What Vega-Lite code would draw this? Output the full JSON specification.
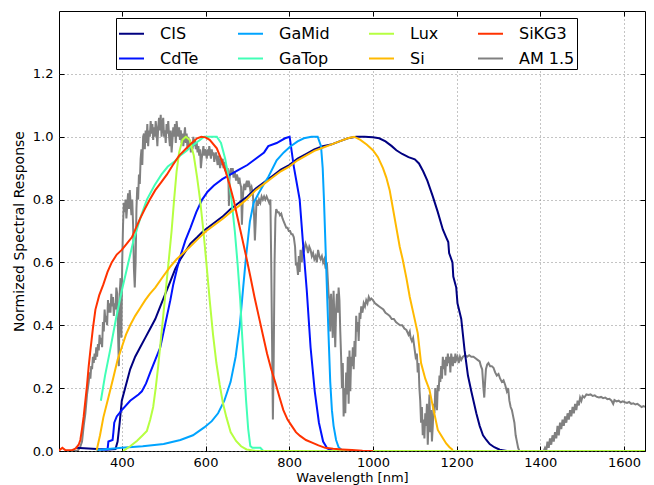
{
  "$schema": "https://vega.github.io/schema/vega-lite/v6.json",
  "width": 586,
  "height": 440,
  "autosize": "none",
  "padding": {"left": 59, "top": 11, "right": 9, "bottom": 34},
  "background": "white",
  "config": {
    "view": {"stroke": "black", "strokeWidth": 1},
    "font": "DejaVu Sans",
    "axis": {"labelFont": "DejaVu Sans", "titleFont": "DejaVu Sans", "labelColor": "black", "titleColor": "black", "tickColor": "black", "titleFontWeight": "normal"}
  },
  "data": {"values": [
    {"series":"AM 1.5","nm":280,"value":0},{"series":"AM 1.5","nm":290,"value":0},{"series":"AM 1.5","nm":295,"value":0.002},{"series":"AM 1.5","nm":300,"value":0.01},{"series":"AM 1.5","nm":305,"value":0.03},{"series":"AM 1.5","nm":309,"value":0.08},{"series":"AM 1.5","nm":313,"value":0.12},{"series":"AM 1.5","nm":317,"value":0.18},{"series":"AM 1.5","nm":321,"value":0.22},{"series":"AM 1.5","nm":323,"value":0.25},{"series":"AM 1.5","nm":325,"value":0.23},{"series":"AM 1.5","nm":327,"value":0.27},{"series":"AM 1.5","nm":329,"value":0.26},{"series":"AM 1.5","nm":331,"value":0.3},{"series":"AM 1.5","nm":333,"value":0.28},{"series":"AM 1.5","nm":335,"value":0.31},{"series":"AM 1.5","nm":337,"value":0.29},{"series":"AM 1.5","nm":339,"value":0.33},{"series":"AM 1.5","nm":341,"value":0.3},{"series":"AM 1.5","nm":343,"value":0.34},{"series":"AM 1.5","nm":345,"value":0.32},{"series":"AM 1.5","nm":347,"value":0.37},{"series":"AM 1.5","nm":349,"value":0.34},{"series":"AM 1.5","nm":351,"value":0.36},{"series":"AM 1.5","nm":353,"value":0.33},{"series":"AM 1.5","nm":355,"value":0.41},{"series":"AM 1.5","nm":357,"value":0.38},{"series":"AM 1.5","nm":359,"value":0.45},{"series":"AM 1.5","nm":361,"value":0.41},{"series":"AM 1.5","nm":363,"value":0.43},{"series":"AM 1.5","nm":365,"value":0.4},{"series":"AM 1.5","nm":367,"value":0.48},{"series":"AM 1.5","nm":369,"value":0.44},{"series":"AM 1.5","nm":371,"value":0.47},{"series":"AM 1.5","nm":373,"value":0.44},{"series":"AM 1.5","nm":375,"value":0.5},{"series":"AM 1.5","nm":377,"value":0.46},{"series":"AM 1.5","nm":379,"value":0.49},{"series":"AM 1.5","nm":381,"value":0.43},{"series":"AM 1.5","nm":383,"value":0.47},{"series":"AM 1.5","nm":385,"value":0.45},{"series":"AM 1.5","nm":387,"value":0.52},{"series":"AM 1.5","nm":389,"value":0.5},{"series":"AM 1.5","nm":391,"value":0.38},{"series":"AM 1.5","nm":393,"value":0.27},{"series":"AM 1.5","nm":395,"value":0.5},{"series":"AM 1.5","nm":397,"value":0.55},{"series":"AM 1.5","nm":399,"value":0.36},{"series":"AM 1.5","nm":401,"value":0.6},{"series":"AM 1.5","nm":403,"value":0.72},{"series":"AM 1.5","nm":405,"value":0.79},{"series":"AM 1.5","nm":407,"value":0.76},{"series":"AM 1.5","nm":409,"value":0.8},{"series":"AM 1.5","nm":411,"value":0.74},{"series":"AM 1.5","nm":413,"value":0.78},{"series":"AM 1.5","nm":415,"value":0.82},{"series":"AM 1.5","nm":417,"value":0.77},{"series":"AM 1.5","nm":419,"value":0.83},{"series":"AM 1.5","nm":421,"value":0.79},{"series":"AM 1.5","nm":423,"value":0.75},{"series":"AM 1.5","nm":425,"value":0.8},{"series":"AM 1.5","nm":427,"value":0.72},{"series":"AM 1.5","nm":429,"value":0.58},{"series":"AM 1.5","nm":431,"value":0.52},{"series":"AM 1.5","nm":433,"value":0.6},{"series":"AM 1.5","nm":435,"value":0.77},{"series":"AM 1.5","nm":437,"value":0.84},{"series":"AM 1.5","nm":439,"value":0.8},{"series":"AM 1.5","nm":441,"value":0.88},{"series":"AM 1.5","nm":443,"value":0.85},{"series":"AM 1.5","nm":445,"value":0.93},{"series":"AM 1.5","nm":447,"value":0.96},{"series":"AM 1.5","nm":449,"value":0.91},{"series":"AM 1.5","nm":451,"value":1.0},{"series":"AM 1.5","nm":453,"value":1.01},{"series":"AM 1.5","nm":455,"value":0.96},{"series":"AM 1.5","nm":457,"value":1.02},{"series":"AM 1.5","nm":459,"value":0.98},{"series":"AM 1.5","nm":461,"value":1.04},{"series":"AM 1.5","nm":463,"value":0.97},{"series":"AM 1.5","nm":465,"value":1.02},{"series":"AM 1.5","nm":467,"value":1.0},{"series":"AM 1.5","nm":469,"value":1.05},{"series":"AM 1.5","nm":471,"value":1.01},{"series":"AM 1.5","nm":473,"value":1.04},{"series":"AM 1.5","nm":475,"value":0.99},{"series":"AM 1.5","nm":477,"value":1.03},{"series":"AM 1.5","nm":479,"value":1.0},{"series":"AM 1.5","nm":481,"value":1.05},{"series":"AM 1.5","nm":483,"value":1.02},{"series":"AM 1.5","nm":485,"value":0.97},{"series":"AM 1.5","nm":487,"value":1.03},{"series":"AM 1.5","nm":489,"value":1.06},{"series":"AM 1.5","nm":491,"value":1.02},{"series":"AM 1.5","nm":493,"value":1.07},{"series":"AM 1.5","nm":495,"value":1.0},{"series":"AM 1.5","nm":497,"value":1.04},{"series":"AM 1.5","nm":499,"value":1.06},{"series":"AM 1.5","nm":501,"value":1.0},{"series":"AM 1.5","nm":503,"value":1.02},{"series":"AM 1.5","nm":505,"value":0.98},{"series":"AM 1.5","nm":507,"value":1.04},{"series":"AM 1.5","nm":509,"value":1.01},{"series":"AM 1.5","nm":511,"value":1.05},{"series":"AM 1.5","nm":513,"value":1.0},{"series":"AM 1.5","nm":515,"value":0.97},{"series":"AM 1.5","nm":517,"value":1.02},{"series":"AM 1.5","nm":519,"value":0.95},{"series":"AM 1.5","nm":521,"value":0.99},{"series":"AM 1.5","nm":523,"value":1.03},{"series":"AM 1.5","nm":525,"value":1.0},{"series":"AM 1.5","nm":527,"value":1.04},{"series":"AM 1.5","nm":529,"value":0.98},{"series":"AM 1.5","nm":531,"value":1.05},{"series":"AM 1.5","nm":533,"value":1.02},{"series":"AM 1.5","nm":535,"value":1.0},{"series":"AM 1.5","nm":537,"value":1.03},{"series":"AM 1.5","nm":539,"value":0.99},{"series":"AM 1.5","nm":541,"value":1.02},{"series":"AM 1.5","nm":543,"value":0.98},{"series":"AM 1.5","nm":545,"value":1.01},{"series":"AM 1.5","nm":547,"value":0.97},{"series":"AM 1.5","nm":549,"value":1.0},{"series":"AM 1.5","nm":551,"value":1.03},{"series":"AM 1.5","nm":553,"value":0.98},{"series":"AM 1.5","nm":555,"value":1.01},{"series":"AM 1.5","nm":557,"value":0.96},{"series":"AM 1.5","nm":559,"value":1.0},{"series":"AM 1.5","nm":561,"value":0.97},{"series":"AM 1.5","nm":563,"value":0.99},{"series":"AM 1.5","nm":565,"value":0.95},{"series":"AM 1.5","nm":567,"value":0.98},{"series":"AM 1.5","nm":569,"value":0.96},{"series":"AM 1.5","nm":571,"value":1.0},{"series":"AM 1.5","nm":573,"value":0.97},{"series":"AM 1.5","nm":575,"value":0.99},{"series":"AM 1.5","nm":577,"value":0.96},{"series":"AM 1.5","nm":579,"value":0.98},{"series":"AM 1.5","nm":581,"value":0.95},{"series":"AM 1.5","nm":583,"value":0.97},{"series":"AM 1.5","nm":585,"value":0.94},{"series":"AM 1.5","nm":587,"value":0.96},{"series":"AM 1.5","nm":589,"value":0.9},{"series":"AM 1.5","nm":591,"value":0.93},{"series":"AM 1.5","nm":593,"value":0.95},{"series":"AM 1.5","nm":595,"value":0.97},{"series":"AM 1.5","nm":597,"value":0.94},{"series":"AM 1.5","nm":599,"value":0.96},{"series":"AM 1.5","nm":601,"value":0.95},{"series":"AM 1.5","nm":603,"value":0.93},{"series":"AM 1.5","nm":605,"value":0.96},{"series":"AM 1.5","nm":607,"value":0.94},{"series":"AM 1.5","nm":609,"value":0.97},{"series":"AM 1.5","nm":611,"value":0.95},{"series":"AM 1.5","nm":613,"value":0.93},{"series":"AM 1.5","nm":615,"value":0.96},{"series":"AM 1.5","nm":617,"value":0.94},{"series":"AM 1.5","nm":619,"value":0.95},{"series":"AM 1.5","nm":621,"value":0.92},{"series":"AM 1.5","nm":623,"value":0.94},{"series":"AM 1.5","nm":625,"value":0.95},{"series":"AM 1.5","nm":627,"value":0.93},{"series":"AM 1.5","nm":629,"value":0.91},{"series":"AM 1.5","nm":631,"value":0.94},{"series":"AM 1.5","nm":633,"value":0.92},{"series":"AM 1.5","nm":635,"value":0.9},{"series":"AM 1.5","nm":637,"value":0.93},{"series":"AM 1.5","nm":639,"value":0.91},{"series":"AM 1.5","nm":641,"value":0.93},{"series":"AM 1.5","nm":643,"value":0.9},{"series":"AM 1.5","nm":645,"value":0.92},{"series":"AM 1.5","nm":647,"value":0.89},{"series":"AM 1.5","nm":649,"value":0.91},{"series":"AM 1.5","nm":651,"value":0.88},{"series":"AM 1.5","nm":653,"value":0.9},{"series":"AM 1.5","nm":655,"value":0.85},{"series":"AM 1.5","nm":656,"value":0.78},{"series":"AM 1.5","nm":657,"value":0.86},{"series":"AM 1.5","nm":659,"value":0.89},{"series":"AM 1.5","nm":661,"value":0.9},{"series":"AM 1.5","nm":663,"value":0.88},{"series":"AM 1.5","nm":665,"value":0.9},{"series":"AM 1.5","nm":667,"value":0.87},{"series":"AM 1.5","nm":669,"value":0.89},{"series":"AM 1.5","nm":671,"value":0.88},{"series":"AM 1.5","nm":673,"value":0.86},{"series":"AM 1.5","nm":675,"value":0.88},{"series":"AM 1.5","nm":677,"value":0.87},{"series":"AM 1.5","nm":679,"value":0.85},{"series":"AM 1.5","nm":681,"value":0.87},{"series":"AM 1.5","nm":683,"value":0.85},{"series":"AM 1.5","nm":685,"value":0.84},{"series":"AM 1.5","nm":687,"value":0.72},{"series":"AM 1.5","nm":689,"value":0.8},{"series":"AM 1.5","nm":691,"value":0.84},{"series":"AM 1.5","nm":693,"value":0.85},{"series":"AM 1.5","nm":695,"value":0.83},{"series":"AM 1.5","nm":697,"value":0.85},{"series":"AM 1.5","nm":699,"value":0.86},{"series":"AM 1.5","nm":701,"value":0.84},{"series":"AM 1.5","nm":703,"value":0.86},{"series":"AM 1.5","nm":705,"value":0.85},{"series":"AM 1.5","nm":707,"value":0.83},{"series":"AM 1.5","nm":710,"value":0.84},{"series":"AM 1.5","nm":713,"value":0.82},{"series":"AM 1.5","nm":716,"value":0.75},{"series":"AM 1.5","nm":718,"value":0.67},{"series":"AM 1.5","nm":720,"value":0.73},{"series":"AM 1.5","nm":722,"value":0.8},{"series":"AM 1.5","nm":725,"value":0.78},{"series":"AM 1.5","nm":728,"value":0.8},{"series":"AM 1.5","nm":731,"value":0.79},{"series":"AM 1.5","nm":734,"value":0.81},{"series":"AM 1.5","nm":737,"value":0.8},{"series":"AM 1.5","nm":740,"value":0.81},{"series":"AM 1.5","nm":743,"value":0.8},{"series":"AM 1.5","nm":746,"value":0.81},{"series":"AM 1.5","nm":749,"value":0.8},{"series":"AM 1.5","nm":752,"value":0.79},{"series":"AM 1.5","nm":755,"value":0.8},{"series":"AM 1.5","nm":757,"value":0.6},{"series":"AM 1.5","nm":759,"value":0.35},{"series":"AM 1.5","nm":761,"value":0.1},{"series":"AM 1.5","nm":763,"value":0.3},{"series":"AM 1.5","nm":765,"value":0.6},{"series":"AM 1.5","nm":767,"value":0.74},{"series":"AM 1.5","nm":769,"value":0.77},{"series":"AM 1.5","nm":772,"value":0.76},{"series":"AM 1.5","nm":775,"value":0.76},{"series":"AM 1.5","nm":778,"value":0.75},{"series":"AM 1.5","nm":781,"value":0.755},{"series":"AM 1.5","nm":784,"value":0.74},{"series":"AM 1.5","nm":787,"value":0.73},{"series":"AM 1.5","nm":790,"value":0.72},{"series":"AM 1.5","nm":793,"value":0.71},{"series":"AM 1.5","nm":796,"value":0.71},{"series":"AM 1.5","nm":799,"value":0.7},{"series":"AM 1.5","nm":802,"value":0.7},{"series":"AM 1.5","nm":805,"value":0.69},{"series":"AM 1.5","nm":808,"value":0.69},{"series":"AM 1.5","nm":811,"value":0.68},{"series":"AM 1.5","nm":814,"value":0.65},{"series":"AM 1.5","nm":816,"value":0.59},{"series":"AM 1.5","nm":818,"value":0.6},{"series":"AM 1.5","nm":821,"value":0.56},{"series":"AM 1.5","nm":823,"value":0.62},{"series":"AM 1.5","nm":825,"value":0.57},{"series":"AM 1.5","nm":827,"value":0.64},{"series":"AM 1.5","nm":830,"value":0.6},{"series":"AM 1.5","nm":833,"value":0.65},{"series":"AM 1.5","nm":836,"value":0.64},{"series":"AM 1.5","nm":839,"value":0.66},{"series":"AM 1.5","nm":842,"value":0.65},{"series":"AM 1.5","nm":845,"value":0.63},{"series":"AM 1.5","nm":848,"value":0.65},{"series":"AM 1.5","nm":851,"value":0.64},{"series":"AM 1.5","nm":854,"value":0.62},{"series":"AM 1.5","nm":857,"value":0.63},{"series":"AM 1.5","nm":860,"value":0.61},{"series":"AM 1.5","nm":863,"value":0.62},{"series":"AM 1.5","nm":866,"value":0.6},{"series":"AM 1.5","nm":869,"value":0.64},{"series":"AM 1.5","nm":872,"value":0.62},{"series":"AM 1.5","nm":875,"value":0.61},{"series":"AM 1.5","nm":878,"value":0.62},{"series":"AM 1.5","nm":881,"value":0.6},{"series":"AM 1.5","nm":884,"value":0.61},{"series":"AM 1.5","nm":887,"value":0.58},{"series":"AM 1.5","nm":890,"value":0.6},{"series":"AM 1.5","nm":892,"value":0.55},{"series":"AM 1.5","nm":894,"value":0.5},{"series":"AM 1.5","nm":896,"value":0.48},{"series":"AM 1.5","nm":898,"value":0.38},{"series":"AM 1.5","nm":900,"value":0.5},{"series":"AM 1.5","nm":902,"value":0.45},{"series":"AM 1.5","nm":904,"value":0.36},{"series":"AM 1.5","nm":906,"value":0.51},{"series":"AM 1.5","nm":908,"value":0.42},{"series":"AM 1.5","nm":910,"value":0.33},{"series":"AM 1.5","nm":912,"value":0.45},{"series":"AM 1.5","nm":914,"value":0.5},{"series":"AM 1.5","nm":916,"value":0.44},{"series":"AM 1.5","nm":918,"value":0.52},{"series":"AM 1.5","nm":920,"value":0.48},{"series":"AM 1.5","nm":922,"value":0.38},{"series":"AM 1.5","nm":924,"value":0.3},{"series":"AM 1.5","nm":926,"value":0.2},{"series":"AM 1.5","nm":928,"value":0.28},{"series":"AM 1.5","nm":930,"value":0.11},{"series":"AM 1.5","nm":932,"value":0.2},{"series":"AM 1.5","nm":934,"value":0.12},{"series":"AM 1.5","nm":936,"value":0.25},{"series":"AM 1.5","nm":938,"value":0.18},{"series":"AM 1.5","nm":940,"value":0.3},{"series":"AM 1.5","nm":942,"value":0.15},{"series":"AM 1.5","nm":944,"value":0.32},{"series":"AM 1.5","nm":946,"value":0.19},{"series":"AM 1.5","nm":948,"value":0.3},{"series":"AM 1.5","nm":950,"value":0.27},{"series":"AM 1.5","nm":952,"value":0.33},{"series":"AM 1.5","nm":954,"value":0.26},{"series":"AM 1.5","nm":956,"value":0.35},{"series":"AM 1.5","nm":958,"value":0.3},{"series":"AM 1.5","nm":960,"value":0.43},{"series":"AM 1.5","nm":962,"value":0.38},{"series":"AM 1.5","nm":964,"value":0.41},{"series":"AM 1.5","nm":966,"value":0.35},{"series":"AM 1.5","nm":968,"value":0.44},{"series":"AM 1.5","nm":970,"value":0.42},{"series":"AM 1.5","nm":972,"value":0.46},{"series":"AM 1.5","nm":975,"value":0.44},{"series":"AM 1.5","nm":978,"value":0.47},{"series":"AM 1.5","nm":981,"value":0.46},{"series":"AM 1.5","nm":984,"value":0.48},{"series":"AM 1.5","nm":987,"value":0.47},{"series":"AM 1.5","nm":990,"value":0.49},{"series":"AM 1.5","nm":993,"value":0.48},{"series":"AM 1.5","nm":996,"value":0.485},{"series":"AM 1.5","nm":1000,"value":0.48},{"series":"AM 1.5","nm":1005,"value":0.47},{"series":"AM 1.5","nm":1010,"value":0.465},{"series":"AM 1.5","nm":1015,"value":0.46},{"series":"AM 1.5","nm":1020,"value":0.455},{"series":"AM 1.5","nm":1025,"value":0.45},{"series":"AM 1.5","nm":1030,"value":0.44},{"series":"AM 1.5","nm":1035,"value":0.435},{"series":"AM 1.5","nm":1040,"value":0.43},{"series":"AM 1.5","nm":1045,"value":0.42},{"series":"AM 1.5","nm":1050,"value":0.42},{"series":"AM 1.5","nm":1055,"value":0.41},{"series":"AM 1.5","nm":1060,"value":0.405},{"series":"AM 1.5","nm":1065,"value":0.4},{"series":"AM 1.5","nm":1070,"value":0.4},{"series":"AM 1.5","nm":1075,"value":0.39},{"series":"AM 1.5","nm":1080,"value":0.385},{"series":"AM 1.5","nm":1085,"value":0.37},{"series":"AM 1.5","nm":1088,"value":0.38},{"series":"AM 1.5","nm":1090,"value":0.36},{"series":"AM 1.5","nm":1093,"value":0.35},{"series":"AM 1.5","nm":1096,"value":0.36},{"series":"AM 1.5","nm":1099,"value":0.33},{"series":"AM 1.5","nm":1102,"value":0.3},{"series":"AM 1.5","nm":1105,"value":0.31},{"series":"AM 1.5","nm":1107,"value":0.25},{"series":"AM 1.5","nm":1109,"value":0.28},{"series":"AM 1.5","nm":1111,"value":0.2},{"series":"AM 1.5","nm":1113,"value":0.16},{"series":"AM 1.5","nm":1115,"value":0.09},{"series":"AM 1.5","nm":1117,"value":0.14},{"series":"AM 1.5","nm":1119,"value":0.05},{"series":"AM 1.5","nm":1121,"value":0.1},{"series":"AM 1.5","nm":1123,"value":0.04},{"series":"AM 1.5","nm":1125,"value":0.12},{"series":"AM 1.5","nm":1127,"value":0.08},{"series":"AM 1.5","nm":1129,"value":0.15},{"series":"AM 1.5","nm":1131,"value":0.02},{"series":"AM 1.5","nm":1133,"value":0.1},{"series":"AM 1.5","nm":1135,"value":0.18},{"series":"AM 1.5","nm":1137,"value":0.06},{"series":"AM 1.5","nm":1139,"value":0.13},{"series":"AM 1.5","nm":1141,"value":0.03},{"series":"AM 1.5","nm":1143,"value":0.08},{"series":"AM 1.5","nm":1145,"value":0.15},{"series":"AM 1.5","nm":1147,"value":0.12},{"series":"AM 1.5","nm":1149,"value":0.2},{"series":"AM 1.5","nm":1151,"value":0.17},{"series":"AM 1.5","nm":1153,"value":0.13},{"series":"AM 1.5","nm":1155,"value":0.21},{"series":"AM 1.5","nm":1157,"value":0.19},{"series":"AM 1.5","nm":1159,"value":0.24},{"series":"AM 1.5","nm":1161,"value":0.22},{"series":"AM 1.5","nm":1163,"value":0.27},{"series":"AM 1.5","nm":1165,"value":0.23},{"series":"AM 1.5","nm":1167,"value":0.3},{"series":"AM 1.5","nm":1169,"value":0.26},{"series":"AM 1.5","nm":1171,"value":0.29},{"series":"AM 1.5","nm":1173,"value":0.24},{"series":"AM 1.5","nm":1175,"value":0.3},{"series":"AM 1.5","nm":1177,"value":0.27},{"series":"AM 1.5","nm":1179,"value":0.31},{"series":"AM 1.5","nm":1181,"value":0.28},{"series":"AM 1.5","nm":1183,"value":0.3},{"series":"AM 1.5","nm":1185,"value":0.25},{"series":"AM 1.5","nm":1187,"value":0.31},{"series":"AM 1.5","nm":1189,"value":0.29},{"series":"AM 1.5","nm":1191,"value":0.27},{"series":"AM 1.5","nm":1193,"value":0.3},{"series":"AM 1.5","nm":1195,"value":0.28},{"series":"AM 1.5","nm":1197,"value":0.31},{"series":"AM 1.5","nm":1199,"value":0.29},{"series":"AM 1.5","nm":1202,"value":0.3},{"series":"AM 1.5","nm":1205,"value":0.28},{"series":"AM 1.5","nm":1208,"value":0.3},{"series":"AM 1.5","nm":1211,"value":0.29},{"series":"AM 1.5","nm":1215,"value":0.3},{"series":"AM 1.5","nm":1220,"value":0.305},{"series":"AM 1.5","nm":1225,"value":0.3},{"series":"AM 1.5","nm":1230,"value":0.305},{"series":"AM 1.5","nm":1235,"value":0.3},{"series":"AM 1.5","nm":1240,"value":0.3},{"series":"AM 1.5","nm":1245,"value":0.295},{"series":"AM 1.5","nm":1250,"value":0.29},{"series":"AM 1.5","nm":1255,"value":0.285},{"series":"AM 1.5","nm":1258,"value":0.27},{"series":"AM 1.5","nm":1261,"value":0.26},{"series":"AM 1.5","nm":1264,"value":0.2},{"series":"AM 1.5","nm":1266,"value":0.17},{"series":"AM 1.5","nm":1268,"value":0.22},{"series":"AM 1.5","nm":1270,"value":0.26},{"series":"AM 1.5","nm":1273,"value":0.275},{"series":"AM 1.5","nm":1276,"value":0.28},{"series":"AM 1.5","nm":1280,"value":0.27},{"series":"AM 1.5","nm":1284,"value":0.27},{"series":"AM 1.5","nm":1288,"value":0.265},{"series":"AM 1.5","nm":1292,"value":0.25},{"series":"AM 1.5","nm":1296,"value":0.24},{"series":"AM 1.5","nm":1300,"value":0.245},{"series":"AM 1.5","nm":1304,"value":0.23},{"series":"AM 1.5","nm":1308,"value":0.22},{"series":"AM 1.5","nm":1312,"value":0.225},{"series":"AM 1.5","nm":1316,"value":0.21},{"series":"AM 1.5","nm":1320,"value":0.19},{"series":"AM 1.5","nm":1323,"value":0.2},{"series":"AM 1.5","nm":1326,"value":0.16},{"series":"AM 1.5","nm":1329,"value":0.14},{"series":"AM 1.5","nm":1332,"value":0.13},{"series":"AM 1.5","nm":1335,"value":0.11},{"series":"AM 1.5","nm":1338,"value":0.09},{"series":"AM 1.5","nm":1341,"value":0.05},{"series":"AM 1.5","nm":1344,"value":0.03},{"series":"AM 1.5","nm":1347,"value":0.01},{"series":"AM 1.5","nm":1350,"value":0},{"series":"AM 1.5","nm":1400,"value":0},{"series":"AM 1.5","nm":1408,"value":0},{"series":"AM 1.5","nm":1411,"value":0.01},{"series":"AM 1.5","nm":1414,"value":0},{"series":"AM 1.5","nm":1417,"value":0.03},{"series":"AM 1.5","nm":1420,"value":0.01},{"series":"AM 1.5","nm":1423,"value":0.04},{"series":"AM 1.5","nm":1426,"value":0.02},{"series":"AM 1.5","nm":1429,"value":0.05},{"series":"AM 1.5","nm":1432,"value":0.03},{"series":"AM 1.5","nm":1435,"value":0.06},{"series":"AM 1.5","nm":1438,"value":0.04},{"series":"AM 1.5","nm":1441,"value":0.08},{"series":"AM 1.5","nm":1444,"value":0.05},{"series":"AM 1.5","nm":1447,"value":0.09},{"series":"AM 1.5","nm":1450,"value":0.07},{"series":"AM 1.5","nm":1453,"value":0.1},{"series":"AM 1.5","nm":1456,"value":0.08},{"series":"AM 1.5","nm":1459,"value":0.11},{"series":"AM 1.5","nm":1462,"value":0.09},{"series":"AM 1.5","nm":1465,"value":0.12},{"series":"AM 1.5","nm":1468,"value":0.1},{"series":"AM 1.5","nm":1471,"value":0.13},{"series":"AM 1.5","nm":1474,"value":0.11},{"series":"AM 1.5","nm":1477,"value":0.14},{"series":"AM 1.5","nm":1480,"value":0.12},{"series":"AM 1.5","nm":1483,"value":0.15},{"series":"AM 1.5","nm":1486,"value":0.13},{"series":"AM 1.5","nm":1489,"value":0.16},{"series":"AM 1.5","nm":1492,"value":0.145},{"series":"AM 1.5","nm":1495,"value":0.17},{"series":"AM 1.5","nm":1498,"value":0.16},{"series":"AM 1.5","nm":1501,"value":0.175},{"series":"AM 1.5","nm":1505,"value":0.17},{"series":"AM 1.5","nm":1510,"value":0.18},{"series":"AM 1.5","nm":1515,"value":0.178},{"series":"AM 1.5","nm":1520,"value":0.18},{"series":"AM 1.5","nm":1525,"value":0.175},{"series":"AM 1.5","nm":1530,"value":0.177},{"series":"AM 1.5","nm":1535,"value":0.172},{"series":"AM 1.5","nm":1540,"value":0.17},{"series":"AM 1.5","nm":1545,"value":0.172},{"series":"AM 1.5","nm":1550,"value":0.168},{"series":"AM 1.5","nm":1555,"value":0.17},{"series":"AM 1.5","nm":1560,"value":0.165},{"series":"AM 1.5","nm":1565,"value":0.166},{"series":"AM 1.5","nm":1570,"value":0.16},{"series":"AM 1.5","nm":1574,"value":0.15},{"series":"AM 1.5","nm":1577,"value":0.162},{"series":"AM 1.5","nm":1582,"value":0.158},{"series":"AM 1.5","nm":1587,"value":0.16},{"series":"AM 1.5","nm":1592,"value":0.155},{"series":"AM 1.5","nm":1597,"value":0.158},{"series":"AM 1.5","nm":1602,"value":0.155},{"series":"AM 1.5","nm":1607,"value":0.153},{"series":"AM 1.5","nm":1612,"value":0.156},{"series":"AM 1.5","nm":1617,"value":0.15},{"series":"AM 1.5","nm":1622,"value":0.152},{"series":"AM 1.5","nm":1627,"value":0.148},{"series":"AM 1.5","nm":1632,"value":0.15},{"series":"AM 1.5","nm":1637,"value":0.145},{"series":"AM 1.5","nm":1642,"value":0.14},{"series":"AM 1.5","nm":1646,"value":0.143},{"series":"AM 1.5","nm":1650,"value":0.14},

    {"series":"CIS","nm":290,"value":0.01},{"series":"CIS","nm":320,"value":0.008},{"series":"CIS","nm":340,"value":0.006},{"series":"CIS","nm":370,"value":0.005},{"series":"CIS","nm":385,"value":0.006},{"series":"CIS","nm":390,"value":0.03},{"series":"CIS","nm":395,"value":0.09},{"series":"CIS","nm":400,"value":0.16},{"series":"CIS","nm":410,"value":0.21},{"series":"CIS","nm":420,"value":0.26},{"series":"CIS","nm":432,"value":0.3},{"series":"CIS","nm":444,"value":0.33},{"series":"CIS","nm":456,"value":0.36},{"series":"CIS","nm":468,"value":0.39},{"series":"CIS","nm":480,"value":0.42},{"series":"CIS","nm":492,"value":0.46},{"series":"CIS","nm":504,"value":0.5},{"series":"CIS","nm":516,"value":0.54},{"series":"CIS","nm":528,"value":0.58},{"series":"CIS","nm":540,"value":0.61},{"series":"CIS","nm":552,"value":0.635},{"series":"CIS","nm":564,"value":0.66},{"series":"CIS","nm":580,"value":0.68},{"series":"CIS","nm":595,"value":0.7},{"series":"CIS","nm":610,"value":0.715},{"series":"CIS","nm":625,"value":0.73},{"series":"CIS","nm":640,"value":0.745},{"series":"CIS","nm":660,"value":0.77},{"series":"CIS","nm":680,"value":0.79},{"series":"CIS","nm":700,"value":0.81},{"series":"CIS","nm":720,"value":0.835},{"series":"CIS","nm":740,"value":0.855},{"series":"CIS","nm":760,"value":0.875},{"series":"CIS","nm":780,"value":0.895},{"series":"CIS","nm":800,"value":0.91},{"series":"CIS","nm":820,"value":0.93},{"series":"CIS","nm":840,"value":0.945},{"series":"CIS","nm":860,"value":0.96},{"series":"CIS","nm":880,"value":0.97},{"series":"CIS","nm":900,"value":0.975},{"series":"CIS","nm":920,"value":0.985},{"series":"CIS","nm":940,"value":0.995},{"series":"CIS","nm":960,"value":1.0},{"series":"CIS","nm":980,"value":1.0},{"series":"CIS","nm":1000,"value":0.998},{"series":"CIS","nm":1015,"value":0.995},{"series":"CIS","nm":1030,"value":0.985},{"series":"CIS","nm":1045,"value":0.97},{"series":"CIS","nm":1056,"value":0.957},{"series":"CIS","nm":1070,"value":0.945},{"series":"CIS","nm":1085,"value":0.935},{"series":"CIS","nm":1100,"value":0.928},{"series":"CIS","nm":1110,"value":0.915},{"series":"CIS","nm":1120,"value":0.89},{"series":"CIS","nm":1130,"value":0.86},{"series":"CIS","nm":1143,"value":0.81},{"series":"CIS","nm":1155,"value":0.76},{"series":"CIS","nm":1167,"value":0.705},{"series":"CIS","nm":1175,"value":0.68},{"series":"CIS","nm":1180,"value":0.665},{"series":"CIS","nm":1182,"value":0.63},{"series":"CIS","nm":1190,"value":0.6},{"series":"CIS","nm":1192,"value":0.555},{"series":"CIS","nm":1199,"value":0.52},{"series":"CIS","nm":1202,"value":0.47},{"series":"CIS","nm":1211,"value":0.42},{"series":"CIS","nm":1219,"value":0.32},{"series":"CIS","nm":1227,"value":0.24},{"series":"CIS","nm":1235,"value":0.19},{"series":"CIS","nm":1247,"value":0.12},{"series":"CIS","nm":1255,"value":0.08},{"series":"CIS","nm":1263,"value":0.05},{"series":"CIS","nm":1271,"value":0.035},{"series":"CIS","nm":1279,"value":0.022},{"series":"CIS","nm":1290,"value":0.012},{"series":"CIS","nm":1303,"value":0.004},{"series":"CIS","nm":1320,"value":0},{"series":"CIS","nm":1340,"value":0},

    {"series":"CdTe","nm":350,"value":0.005},{"series":"CdTe","nm":366,"value":0.005},{"series":"CdTe","nm":368,"value":0.03},{"series":"CdTe","nm":378,"value":0.035},{"series":"CdTe","nm":380,"value":0.06},{"series":"CdTe","nm":382,"value":0.09},{"series":"CdTe","nm":388,"value":0.11},{"series":"CdTe","nm":400,"value":0.13},{"series":"CdTe","nm":420,"value":0.16},{"series":"CdTe","nm":440,"value":0.18},{"series":"CdTe","nm":448,"value":0.19},{"series":"CdTe","nm":458,"value":0.215},{"series":"CdTe","nm":468,"value":0.25},{"series":"CdTe","nm":480,"value":0.29},{"series":"CdTe","nm":492,"value":0.33},{"series":"CdTe","nm":500,"value":0.38},{"series":"CdTe","nm":508,"value":0.43},{"series":"CdTe","nm":516,"value":0.48},{"series":"CdTe","nm":523,"value":0.53},{"series":"CdTe","nm":532,"value":0.58},{"series":"CdTe","nm":540,"value":0.62},{"series":"CdTe","nm":552,"value":0.67},{"series":"CdTe","nm":564,"value":0.71},{"series":"CdTe","nm":578,"value":0.76},{"series":"CdTe","nm":592,"value":0.8},{"series":"CdTe","nm":605,"value":0.825},{"series":"CdTe","nm":620,"value":0.845},{"series":"CdTe","nm":640,"value":0.865},{"series":"CdTe","nm":660,"value":0.88},{"series":"CdTe","nm":680,"value":0.895},{"series":"CdTe","nm":700,"value":0.91},{"series":"CdTe","nm":720,"value":0.93},{"series":"CdTe","nm":740,"value":0.95},{"series":"CdTe","nm":750,"value":0.97},{"series":"CdTe","nm":770,"value":0.98},{"series":"CdTe","nm":790,"value":0.995},{"series":"CdTe","nm":801,"value":1.0},{"series":"CdTe","nm":811,"value":0.905},{"series":"CdTe","nm":817,"value":0.86},{"series":"CdTe","nm":825,"value":0.8},{"series":"CdTe","nm":833,"value":0.66},{"series":"CdTe","nm":842,"value":0.51},{"series":"CdTe","nm":851,"value":0.33},{"series":"CdTe","nm":861,"value":0.19},{"series":"CdTe","nm":871,"value":0.09},{"series":"CdTe","nm":881,"value":0.03},{"series":"CdTe","nm":891,"value":0.008},{"series":"CdTe","nm":905,"value":0},

    {"series":"GaMid","nm":340,"value":0.003},{"series":"GaMid","nm":400,"value":0.01},{"series":"GaMid","nm":450,"value":0.015},{"series":"GaMid","nm":500,"value":0.022},{"series":"GaMid","nm":540,"value":0.035},{"series":"GaMid","nm":570,"value":0.05},{"series":"GaMid","nm":597,"value":0.075},{"series":"GaMid","nm":615,"value":0.095},{"series":"GaMid","nm":630,"value":0.12},{"series":"GaMid","nm":645,"value":0.16},{"series":"GaMid","nm":660,"value":0.22},{"series":"GaMid","nm":672,"value":0.3},{"series":"GaMid","nm":682,"value":0.4},{"series":"GaMid","nm":690,"value":0.52},{"series":"GaMid","nm":697,"value":0.62},{"series":"GaMid","nm":706,"value":0.73},{"series":"GaMid","nm":715,"value":0.79},{"series":"GaMid","nm":727,"value":0.82},{"series":"GaMid","nm":740,"value":0.85},{"series":"GaMid","nm":750,"value":0.872},{"series":"GaMid","nm":770,"value":0.925},{"series":"GaMid","nm":787,"value":0.95},{"series":"GaMid","nm":802,"value":0.968},{"series":"GaMid","nm":820,"value":0.985},{"series":"GaMid","nm":835,"value":0.995},{"series":"GaMid","nm":853,"value":1.0},{"series":"GaMid","nm":868,"value":1.0},{"series":"GaMid","nm":876,"value":0.97},{"series":"GaMid","nm":880,"value":0.9},{"series":"GaMid","nm":883,"value":0.8},{"series":"GaMid","nm":887,"value":0.64},{"series":"GaMid","nm":891,"value":0.48},{"series":"GaMid","nm":895,"value":0.33},{"series":"GaMid","nm":898,"value":0.22},{"series":"GaMid","nm":902,"value":0.13},{"series":"GaMid","nm":906,"value":0.08},{"series":"GaMid","nm":912,"value":0.035},{"series":"GaMid","nm":918,"value":0.012},{"series":"GaMid","nm":928,"value":0},

    {"series":"GaTop","nm":350,"value":0.16},{"series":"GaTop","nm":360,"value":0.24},{"series":"GaTop","nm":372,"value":0.32},{"series":"GaTop","nm":386,"value":0.42},{"series":"GaTop","nm":400,"value":0.51},{"series":"GaTop","nm":414,"value":0.59},{"series":"GaTop","nm":428,"value":0.67},{"series":"GaTop","nm":444,"value":0.74},{"series":"GaTop","nm":460,"value":0.8},{"series":"GaTop","nm":478,"value":0.845},{"series":"GaTop","nm":495,"value":0.88},{"series":"GaTop","nm":510,"value":0.905},{"series":"GaTop","nm":525,"value":0.92},{"series":"GaTop","nm":540,"value":0.94},{"series":"GaTop","nm":555,"value":0.955},{"series":"GaTop","nm":567,"value":0.97},{"series":"GaTop","nm":582,"value":0.985},{"series":"GaTop","nm":597,"value":1.0},{"series":"GaTop","nm":612,"value":1.0},{"series":"GaTop","nm":627,"value":1.0},{"series":"GaTop","nm":637,"value":0.98},{"series":"GaTop","nm":647,"value":0.93},{"series":"GaTop","nm":655,"value":0.87},{"series":"GaTop","nm":662,"value":0.8},{"series":"GaTop","nm":670,"value":0.7},{"series":"GaTop","nm":677,"value":0.59},{"series":"GaTop","nm":683,"value":0.48},{"series":"GaTop","nm":687,"value":0.38},{"series":"GaTop","nm":692,"value":0.27},{"series":"GaTop","nm":697,"value":0.16},{"series":"GaTop","nm":702,"value":0.07},{"series":"GaTop","nm":707,"value":0.016},{"series":"GaTop","nm":712,"value":0.01},{"series":"GaTop","nm":731,"value":0.01},{"series":"GaTop","nm":738,"value":0},{"series":"GaTop","nm":745,"value":0},

    {"series":"Lux","nm":403,"value":0},{"series":"Lux","nm":420,"value":0.015},{"series":"Lux","nm":436,"value":0.032},{"series":"Lux","nm":450,"value":0.05},{"series":"Lux","nm":460,"value":0.064},{"series":"Lux","nm":468,"value":0.1},{"series":"Lux","nm":475,"value":0.14},{"series":"Lux","nm":481,"value":0.2},{"series":"Lux","nm":487,"value":0.27},{"series":"Lux","nm":493,"value":0.35},{"series":"Lux","nm":499,"value":0.43},{"series":"Lux","nm":505,"value":0.51},{"series":"Lux","nm":511,"value":0.59},{"series":"Lux","nm":519,"value":0.7},{"series":"Lux","nm":525,"value":0.8},{"series":"Lux","nm":531,"value":0.89},{"series":"Lux","nm":537,"value":0.95},{"series":"Lux","nm":545,"value":0.99},{"series":"Lux","nm":553,"value":1.0},{"series":"Lux","nm":562,"value":0.99},{"series":"Lux","nm":572,"value":0.94},{"series":"Lux","nm":580,"value":0.87},{"series":"Lux","nm":587,"value":0.8},{"series":"Lux","nm":595,"value":0.7},{"series":"Lux","nm":602,"value":0.6},{"series":"Lux","nm":610,"value":0.48},{"series":"Lux","nm":618,"value":0.37},{"series":"Lux","nm":626,"value":0.28},{"series":"Lux","nm":634,"value":0.21},{"series":"Lux","nm":642,"value":0.15},{"series":"Lux","nm":650,"value":0.107},{"series":"Lux","nm":660,"value":0.06},{"series":"Lux","nm":673,"value":0.032},{"series":"Lux","nm":685,"value":0.015},{"series":"Lux","nm":698,"value":0.005},{"series":"Lux","nm":720,"value":0},{"series":"Lux","nm":1000,"value":0},{"series":"Lux","nm":1650,"value":0},

    {"series":"Si","nm":340,"value":0.002},{"series":"Si","nm":348,"value":0.05},{"series":"Si","nm":356,"value":0.107},{"series":"Si","nm":368,"value":0.17},{"series":"Si","nm":380,"value":0.235},{"series":"Si","nm":390,"value":0.29},{"series":"Si","nm":400,"value":0.33},{"series":"Si","nm":410,"value":0.37},{"series":"Si","nm":420,"value":0.4},{"series":"Si","nm":432,"value":0.43},{"series":"Si","nm":444,"value":0.455},{"series":"Si","nm":456,"value":0.48},{"series":"Si","nm":467,"value":0.5},{"series":"Si","nm":480,"value":0.52},{"series":"Si","nm":499,"value":0.556},{"series":"Si","nm":515,"value":0.585},{"series":"Si","nm":531,"value":0.61},{"series":"Si","nm":547,"value":0.63},{"series":"Si","nm":563,"value":0.65},{"series":"Si","nm":582,"value":0.675},{"series":"Si","nm":602,"value":0.7},{"series":"Si","nm":622,"value":0.72},{"series":"Si","nm":642,"value":0.74},{"series":"Si","nm":660,"value":0.76},{"series":"Si","nm":680,"value":0.78},{"series":"Si","nm":698,"value":0.8},{"series":"Si","nm":720,"value":0.83},{"series":"Si","nm":740,"value":0.85},{"series":"Si","nm":760,"value":0.87},{"series":"Si","nm":780,"value":0.89},{"series":"Si","nm":800,"value":0.905},{"series":"Si","nm":820,"value":0.925},{"series":"Si","nm":840,"value":0.94},{"series":"Si","nm":860,"value":0.955},{"series":"Si","nm":880,"value":0.965},{"series":"Si","nm":900,"value":0.975},{"series":"Si","nm":920,"value":0.985},{"series":"Si","nm":940,"value":0.995},{"series":"Si","nm":955,"value":1.0},{"series":"Si","nm":970,"value":0.99},{"series":"Si","nm":985,"value":0.975},{"series":"Si","nm":1000,"value":0.957},{"series":"Si","nm":1012,"value":0.935},{"series":"Si","nm":1024,"value":0.9},{"series":"Si","nm":1032,"value":0.87},{"series":"Si","nm":1040,"value":0.83},{"series":"Si","nm":1048,"value":0.77},{"series":"Si","nm":1056,"value":0.71},{"series":"Si","nm":1064,"value":0.65},{"series":"Si","nm":1071,"value":0.61},{"series":"Si","nm":1080,"value":0.55},{"series":"Si","nm":1088,"value":0.49},{"series":"Si","nm":1098,"value":0.43},{"series":"Si","nm":1107,"value":0.375},{"series":"Si","nm":1115,"value":0.28},{"series":"Si","nm":1125,"value":0.23},{"series":"Si","nm":1135,"value":0.195},{"series":"Si","nm":1145,"value":0.13},{"series":"Si","nm":1155,"value":0.067},{"series":"Si","nm":1165,"value":0.045},{"series":"Si","nm":1175,"value":0.024},{"series":"Si","nm":1183,"value":0.012},{"series":"Si","nm":1191,"value":0.003},

    {"series":"SiKG3","nm":250,"value":0},{"series":"SiKG3","nm":253,"value":0.005},{"series":"SiKG3","nm":258,"value":0.01},{"series":"SiKG3","nm":265,"value":0.003},{"series":"SiKG3","nm":280,"value":0.002},{"series":"SiKG3","nm":290,"value":0.008},{"series":"SiKG3","nm":297,"value":0.02},{"series":"SiKG3","nm":301,"value":0.035},{"series":"SiKG3","nm":305,"value":0.07},{"series":"SiKG3","nm":309,"value":0.11},{"series":"SiKG3","nm":313,"value":0.16},{"series":"SiKG3","nm":317,"value":0.21},{"series":"SiKG3","nm":321,"value":0.27},{"series":"SiKG3","nm":325,"value":0.32},{"series":"SiKG3","nm":331,"value":0.39},{"series":"SiKG3","nm":337,"value":0.45},{"series":"SiKG3","nm":346,"value":0.495},{"series":"SiKG3","nm":356,"value":0.53},{"series":"SiKG3","nm":366,"value":0.57},{"series":"SiKG3","nm":376,"value":0.6},{"series":"SiKG3","nm":388,"value":0.625},{"series":"SiKG3","nm":400,"value":0.64},{"series":"SiKG3","nm":412,"value":0.66},{"series":"SiKG3","nm":424,"value":0.68},{"series":"SiKG3","nm":434,"value":0.71},{"series":"SiKG3","nm":444,"value":0.74},{"series":"SiKG3","nm":455,"value":0.77},{"series":"SiKG3","nm":467,"value":0.8},{"series":"SiKG3","nm":480,"value":0.83},{"series":"SiKG3","nm":494,"value":0.855},{"series":"SiKG3","nm":508,"value":0.88},{"series":"SiKG3","nm":522,"value":0.91},{"series":"SiKG3","nm":537,"value":0.94},{"series":"SiKG3","nm":552,"value":0.96},{"series":"SiKG3","nm":567,"value":0.98},{"series":"SiKG3","nm":580,"value":0.995},{"series":"SiKG3","nm":590,"value":1.0},{"series":"SiKG3","nm":600,"value":0.998},{"series":"SiKG3","nm":610,"value":0.99},{"series":"SiKG3","nm":627,"value":0.963},{"series":"SiKG3","nm":637,"value":0.93},{"series":"SiKG3","nm":647,"value":0.894},{"series":"SiKG3","nm":657,"value":0.85},{"series":"SiKG3","nm":667,"value":0.8},{"series":"SiKG3","nm":677,"value":0.74},{"series":"SiKG3","nm":687,"value":0.68},{"series":"SiKG3","nm":697,"value":0.62},{"series":"SiKG3","nm":707,"value":0.556},{"series":"SiKG3","nm":717,"value":0.49},{"series":"SiKG3","nm":727,"value":0.43},{"series":"SiKG3","nm":737,"value":0.37},{"series":"SiKG3","nm":747,"value":0.31},{"series":"SiKG3","nm":757,"value":0.26},{"series":"SiKG3","nm":767,"value":0.217},{"series":"SiKG3","nm":777,"value":0.17},{"series":"SiKG3","nm":786,"value":0.13},{"series":"SiKG3","nm":796,"value":0.1},{"series":"SiKG3","nm":806,"value":0.08},{"series":"SiKG3","nm":816,"value":0.06},{"series":"SiKG3","nm":826,"value":0.048},{"series":"SiKG3","nm":840,"value":0.035},{"series":"SiKG3","nm":856,"value":0.026},{"series":"SiKG3","nm":870,"value":0.018},{"series":"SiKG3","nm":886,"value":0.01},{"series":"SiKG3","nm":905,"value":0.007},{"series":"SiKG3","nm":926,"value":0.005},{"series":"SiKG3","nm":950,"value":0.003},{"series":"SiKG3","nm":975,"value":0.001},{"series":"SiKG3","nm":1000,"value":0}
  ]},
  "layer": [
    {
      "mark": {"type": "line", "clip": true},
      "encoding": {
        "x": {"field": "nm", "type": "quantitative", "scale": {"domain": [250, 1650], "nice": false, "zero": false},
          "axis": {"orient": "bottom", "title": "Wavelength [nm]", "values": [400, 600, 800, 1000, 1200, 1400, 1600], "format": "d", "grid": true, "gridDash": [1, 3], "gridColor": "#888888", "gridOpacity": 1, "domain": false, "tickSize": -5, "labelPadding": 10, "labelFontSize": 13, "titleFontSize": 13, "titlePadding": 2}},
        "y": {"field": "value", "type": "quantitative", "scale": {"domain": [0, 1.4], "nice": false},
          "axis": {"orient": "left", "title": "Normized Spectral Response", "values": [0, 0.2, 0.4, 0.6, 0.8, 1.0, 1.2], "format": ".1f", "grid": true, "gridDash": [1, 3], "gridColor": "#888888", "gridOpacity": 1, "domain": false, "tickSize": -5, "labelPadding": 11, "labelFontSize": 13, "titleFontSize": 14, "titlePadding": 6}},
        "color": {"field": "series", "type": "nominal",
          "scale": {"domain": ["CIS", "CdTe", "GaMid", "GaTop", "Lux", "Si", "SiKG3", "AM 1.5"], "range": ["#000080", "#0012ff", "#00a4ff", "#41ffb6", "#b6ff41", "#ffb900", "#ff3200", "#808080"]},
          "legend": {"title": null, "orient": "none", "legendX": 57, "legendY": 7, "columns": 4, "symbolType": "stroke", "symbolSize": 625, "symbolStrokeWidth": 3, "labelFontSize": 16, "labelFont": "DejaVu Sans", "labelColor": "black", "labelOffset": 15, "columnPadding": 35, "rowPadding": 3, "padding": 2, "strokeColor": "black", "fillColor": "white"}},
        "strokeWidth": {"field": "series", "type": "nominal",
          "scale": {"domain": ["CIS", "CdTe", "GaMid", "GaTop", "Lux", "Si", "SiKG3", "AM 1.5"], "range": [2, 2, 2, 2, 2, 2, 2, 1]}, "legend": null}
      }
    },
    {
      "data": {"values": [{"nm": 250, "value": 0}]},
      "mark": {"type": "point", "opacity": 0},
      "encoding": {
        "x": {"field": "nm", "type": "quantitative", "scale": {"domain": [250, 1650], "nice": false, "zero": false},
          "axis": {"orient": "top", "title": null, "labels": false, "values": [400, 600, 800, 1000, 1200, 1400, 1600], "grid": false, "domain": false, "tickSize": -5}},
        "y": {"field": "value", "type": "quantitative", "scale": {"domain": [0, 1.4], "nice": false},
          "axis": {"orient": "right", "title": null, "labels": false, "values": [0, 0.2, 0.4, 0.6, 0.8, 1.0, 1.2], "grid": false, "domain": false, "tickSize": -5}}
      }
    }
  ],
  "resolve": {"axis": {"x": "independent", "y": "independent"}}
}
